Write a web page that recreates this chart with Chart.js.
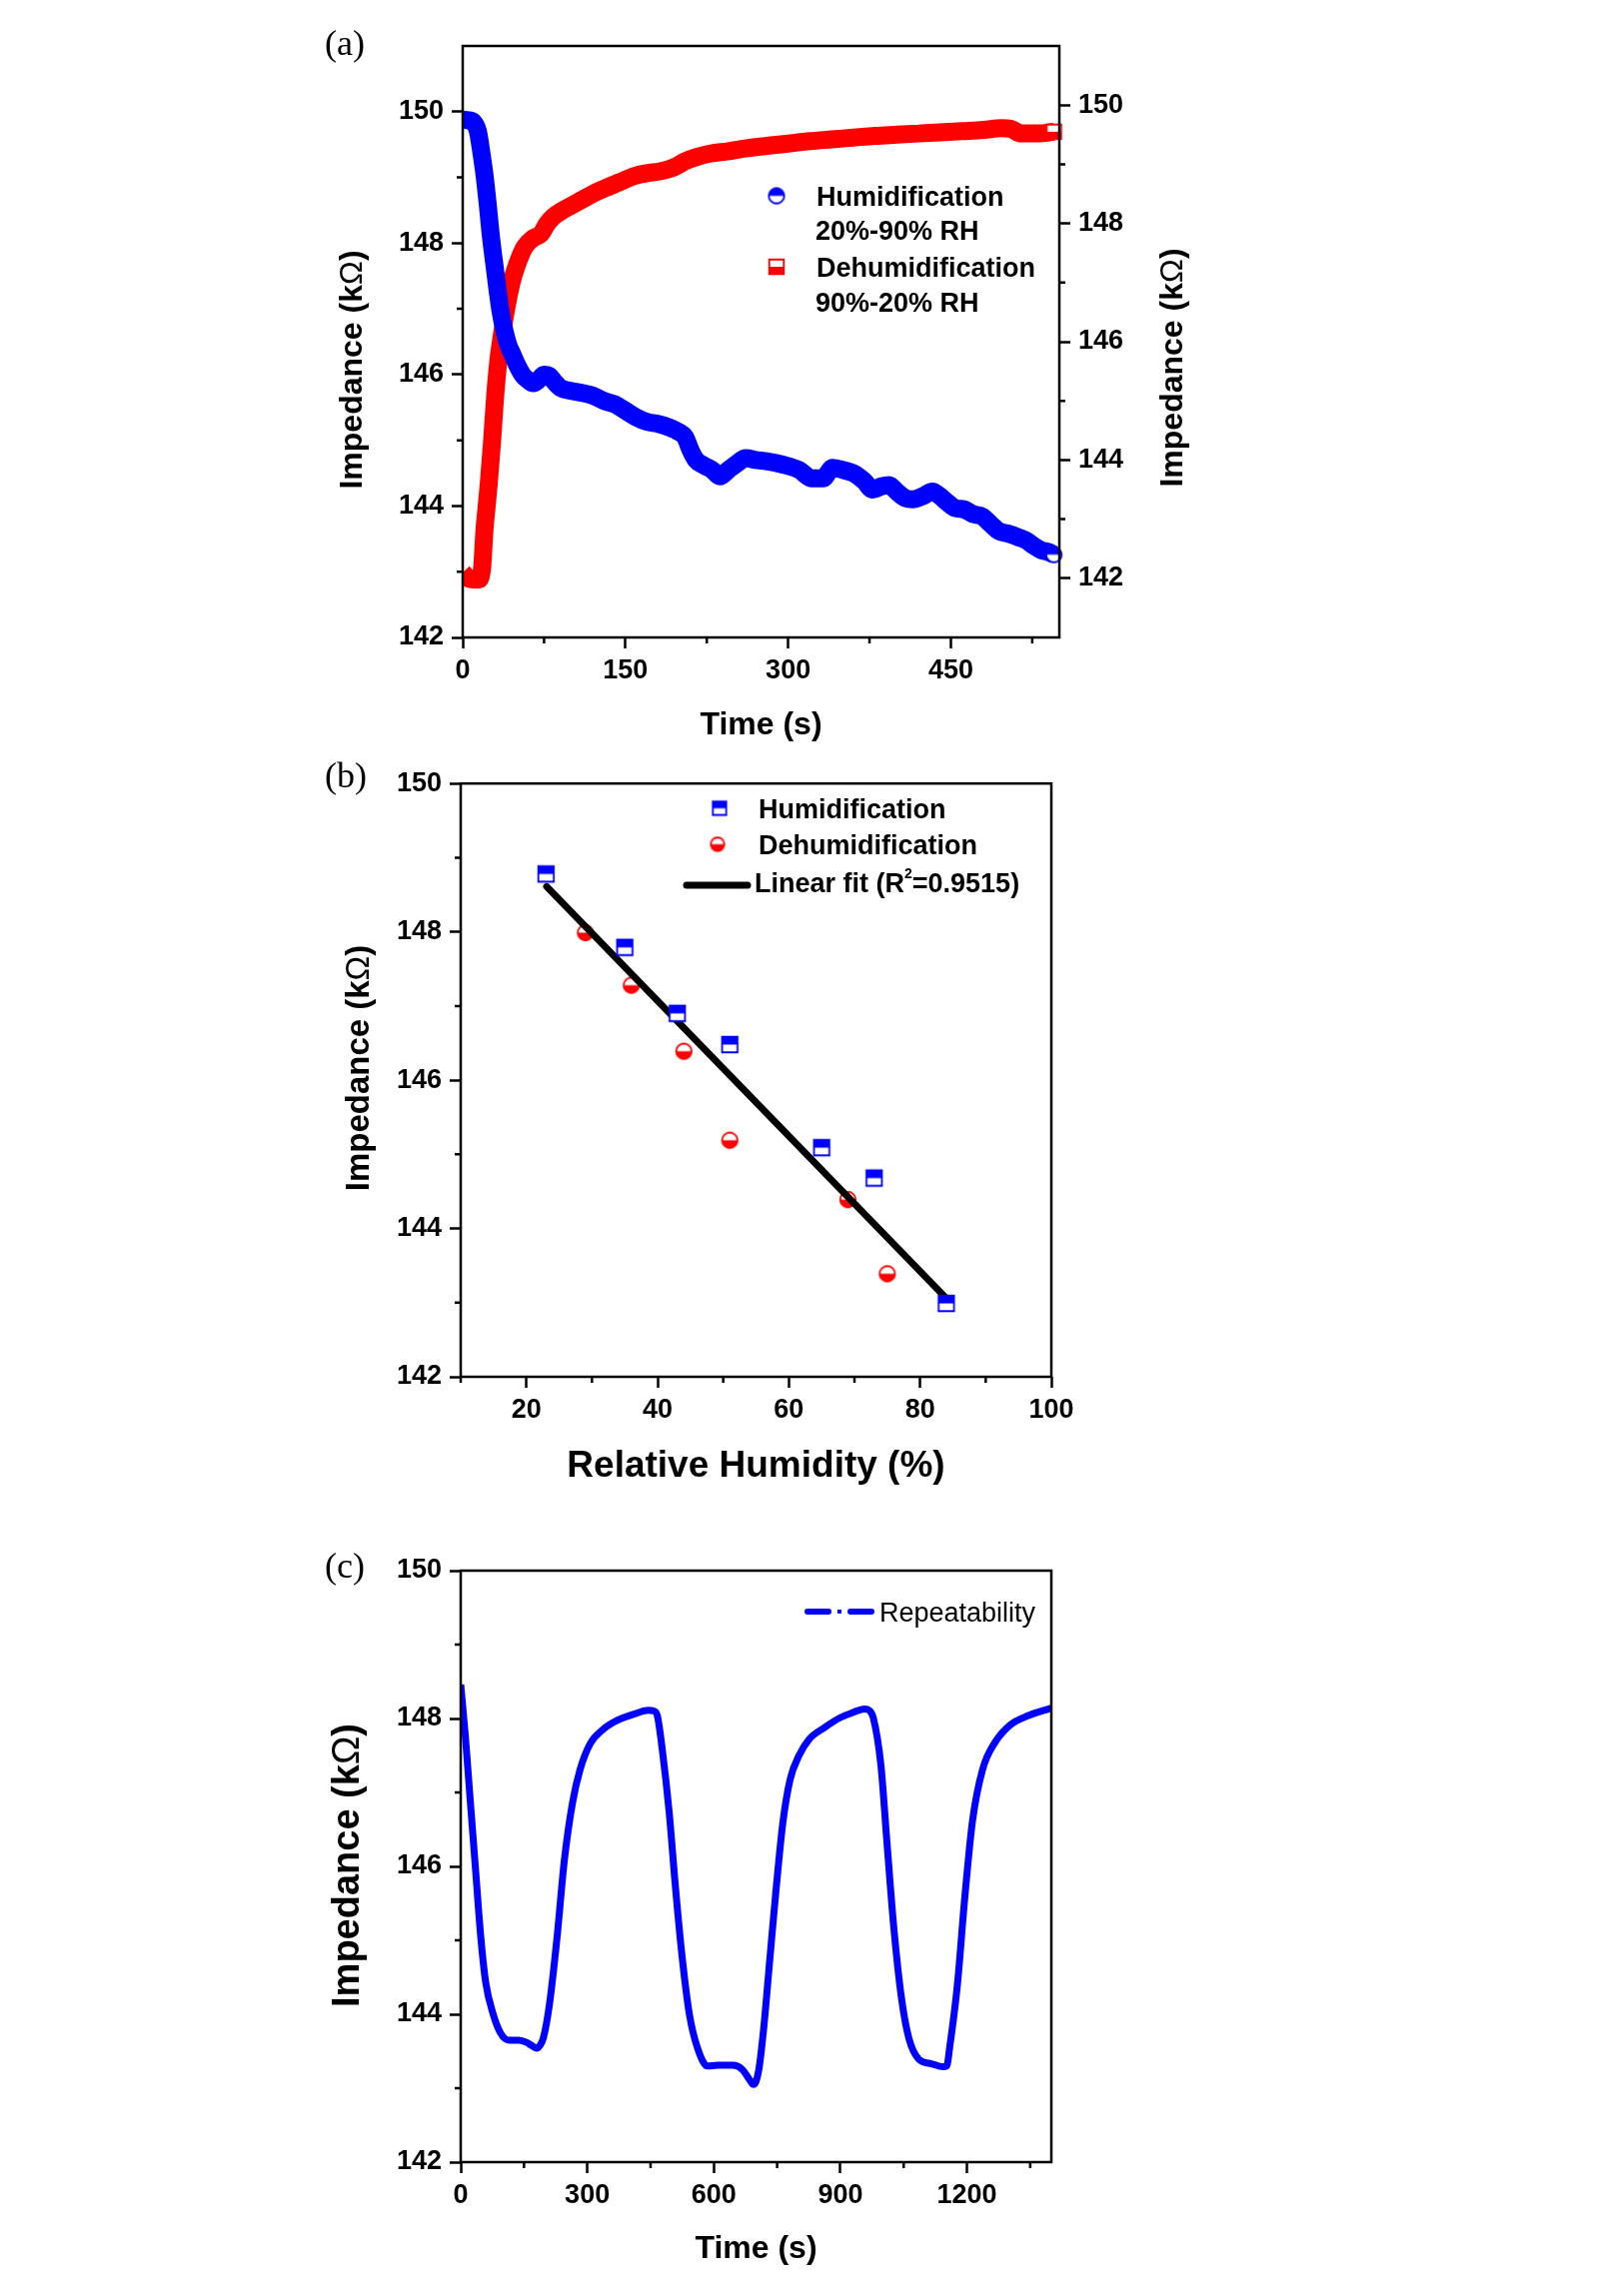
<!DOCTYPE html>
<html>
<head>
<meta charset="utf-8">
<title>Impedance response</title>
<script src="https://cdn.jsdelivr.net/npm/chart.js@4.4.1/dist/chart.umd.min.js"></script>
<style>
  html, body { margin: 0; padding: 0; background: #fff; }
  body { width: 1605px; height: 2298px; position: relative; overflow: hidden; }
  canvas { position: absolute; left: 0; }
</style>
</head>
<body>
<canvas id="chartA" width="1605" height="760" style="top:0"></canvas>
<canvas id="chartB" width="1605" height="760" style="top:760px"></canvas>
<canvas id="chartC" width="1605" height="778" style="top:1520px"></canvas>
<script>
// (a) response / recovery
var humTime = [0, 5, 10, 14, 17, 20, 23, 26, 29, 32, 35, 38, 42, 46, 50, 55, 60, 65, 70, 75,
  80, 85, 90, 100, 110, 120, 130, 140, 150, 160, 170, 180, 190, 200, 205, 210, 215, 222, 230, 237,
  245, 253, 261, 270, 280, 295, 310, 322, 332, 341, 350, 360, 370, 378, 386, 393, 400, 408, 415, 424,
  433, 440, 447, 454, 462, 470, 479, 487, 494, 503, 513, 520, 525, 533, 540, 545];
var humImp = [149.88, 149.87, 149.84, 149.7, 149.4, 149.05, 148.6, 148.1, 147.7, 147.3,
  146.95, 146.7, 146.45, 146.3, 146.15, 146.0, 145.92, 145.87, 145.92, 146.0,
  145.98, 145.88, 145.8, 145.75, 145.72, 145.68, 145.6, 145.55, 145.45, 145.35,
  145.28, 145.25, 145.2, 145.12, 145.05, 144.85, 144.7, 144.62, 144.55, 144.45,
  144.55, 144.65, 144.73, 144.7, 144.68, 144.63, 144.55, 144.42, 144.42, 144.58,
  144.55, 144.5, 144.38, 144.25, 144.3, 144.32, 144.22, 144.12, 144.1, 144.15,
  144.22, 144.15, 144.05, 143.97, 143.95, 143.88, 143.84, 143.72, 143.62, 143.58,
  143.52, 143.47, 143.41, 143.33, 143.3, 143.26];
var dehumTime = [0, 5, 10, 15, 18, 20, 22, 24, 27, 30, 33, 36, 40, 45, 50, 57, 65, 72, 78, 84,
  92, 100, 110, 120, 132, 145, 158, 170, 182, 195, 205, 215, 228, 245, 262, 280, 300, 320, 340, 360,
  380, 400, 420, 440, 460, 480, 497, 505, 515, 530, 545];
var dehumImp = [142.1, 142.0, 141.98, 141.98, 142.2, 142.8, 143.2, 143.6, 144.3, 145.1,
  145.7, 146.1, 146.55, 147.0, 147.3, 147.6, 147.75, 147.82, 148.0, 148.12,
  148.22, 148.3, 148.4, 148.5, 148.6, 148.7, 148.8, 148.85, 148.88, 148.95,
  149.05, 149.12, 149.18, 149.22, 149.27, 149.31, 149.35, 149.39, 149.42, 149.45,
  149.48, 149.5, 149.52, 149.54, 149.56, 149.58, 149.61, 149.6, 149.52, 149.52, 149.55];

// (b) impedance vs RH
var humRH = [23, 35, 43, 51, 65, 73, 84];
var humB = [148.78, 147.79, 146.9, 146.48, 145.09, 144.68, 142.99];
var dehumRH = [29, 36, 44, 51, 69, 75];
var dehumB = [147.99, 147.28, 146.39, 145.19, 144.39, 143.39];
var fitRH = [23.1, 84.1];
var fitB = [148.61, 143.05];

// (c) repeatability
var cycTime = [0, 11, 23, 35, 47, 59, 77, 95, 114, 138, 156, 170, 180, 188, 196, 210, 228, 246, 265, 283,
  307, 337, 373, 416, 445, 458, 466, 478, 494, 509, 524, 542, 561, 585, 609, 645, 668, 684, 694, 706,
  718, 732, 748, 764, 781, 802, 826, 863, 899, 929, 957, 970, 978, 996, 1010, 1026, 1044, 1062, 1086, 1116,
  1143, 1152, 1159, 1177, 1195, 1213, 1237, 1268, 1304, 1346, 1400];
var cycImp = [148.46, 147.76, 146.86, 145.97, 145.08, 144.44, 144.0, 143.74, 143.65, 143.65,
  143.62, 143.57, 143.54, 143.58, 143.68, 144.12, 145.02, 146.1, 146.86, 147.31,
  147.66, 147.85, 147.98, 148.07, 148.11, 148.1, 148.04, 147.57, 146.74, 145.72,
  144.82, 144.0, 143.55, 143.3, 143.31, 143.31, 143.25, 143.12, 143.05, 143.23,
  143.8, 144.7, 145.72, 146.61, 147.18, 147.5, 147.72, 147.88, 148.01, 148.08,
  148.13, 148.1, 148.01, 147.37, 146.35, 145.21, 144.25, 143.68, 143.39, 143.33,
  143.29, 143.3, 143.55, 144.38, 145.59, 146.61, 147.31, 147.69, 147.92, 148.04, 148.14];

// tick labels
var impTicks = [142, 144, 146, 148, 150];
var impMinor = [143, 145, 147, 149];
var timeTicksA = [0, 150, 300, 450];
var timeMinorA = [75, 225, 375, 525];
var rhTicks = [20, 40, 60, 80, 100];
var rhMinor = [10, 30, 50, 70, 90];
var timeTicksC = [0, 300, 600, 900, 1200];
var timeMinorC = [150, 450, 750, 1050, 1350];

var BLUE = '#0000ff', RED = '#ff0000';
var SANS = '"Liberation Sans", Arial, sans-serif';
var SERIF = '"Liberation Serif", "Times New Roman", serif';

Chart.defaults.font.family = SANS;
Chart.defaults.color = '#000';

function pts(xs, ys) {
    return xs.map(function (x, i) { return {x: x, y: ys[i]}; });
}

// half filled marker (Origin style)
function halfMarker(shape, size, color, topFilled) {
    var c = document.createElement('canvas');
    c.width = c.height = size + 4;
    var g = c.getContext('2d'), m = c.width / 2, r = size / 2;
    function path() {
        g.beginPath();
        if (shape === 'circle') g.arc(m, m, r - 0.75, 0, Math.PI * 2);
        else g.rect(m - r + 0.75, m - r + 0.75, size - 1.5, size - 1.5);
    }
    g.fillStyle = '#fff';
    path(); g.fill();
    g.save(); path(); g.clip();
    g.fillStyle = color;
    if (topFilled) g.fillRect(0, 0, c.width, m);
    else g.fillRect(0, m, c.width, c.height - m);
    g.restore();
    g.lineWidth = 1.8; g.strokeStyle = color;
    path(); g.stroke();
    return c;
}

function axis(pos, min, max, ticks, size) {
    return {
        type: 'linear', position: pos, min: min, max: max,
        afterBuildTicks: function (s) { s.ticks = ticks.map(function (v) { return {value: v}; }); },
        afterFit: function (s) { if (s.isHorizontal()) s.height = size; else s.width = size; },
        border: {display: false},
        grid: {drawOnChartArea: false, tickLength: 11, tickWidth: 2.5, tickColor: '#000'},
        ticks: {
            font: {size: 27, weight: 'bold'}, color: '#000',
            padding: pos === 'bottom' ? 6 : 8, autoSkip: false, maxRotation: 0,
            callback: function (v) { return String(v); }
        }
    };
}

function text(ctx, str, x, y, font, align) {
    ctx.save();
    ctx.font = font; ctx.fillStyle = '#000';
    ctx.textAlign = align || 'left'; ctx.textBaseline = 'alphabetic';
    ctx.fillText(str, x, y);
    ctx.restore();
}

function impTitle(ctx, cx, cy, size) {
    var parts = [['Impedance (k', 'bold '], ['\u03A9', ''], [')', 'bold ']];
    ctx.save();
    ctx.translate(cx, cy); ctx.rotate(-Math.PI / 2);
    ctx.fillStyle = '#000'; ctx.textBaseline = 'middle'; ctx.textAlign = 'left';
    var w = 0;
    parts.forEach(function (p) { ctx.font = p[1] + size + 'px ' + SANS; w += ctx.measureText(p[0]).width; });
    var x = -w / 2;
    parts.forEach(function (p) {
        ctx.font = p[1] + size + 'px ' + SANS;
        ctx.fillText(p[0], x, 0);
        x += ctx.measureText(p[0]).width;
    });
    ctx.restore();
}

function drawImg(ctx, img, x, y) {
    ctx.drawImage(img, x - img.width / 2, y - img.height / 2);
}

// box around the plot, minor ticks, texts
function framePlugin(minors, extras) {
    return {
        id: 'frame',
        afterDraw: function (chart) {
            var ctx = chart.ctx, a = chart.chartArea;
            ctx.save();
            ctx.strokeStyle = '#000'; ctx.lineWidth = 2.5;
            ctx.strokeRect(a.left, a.top, a.right - a.left, a.bottom - a.top);
            ctx.beginPath();
            Object.keys(minors).forEach(function (id) {
                var s = chart.scales[id];
                minors[id].forEach(function (v) {
                    var p = s.getPixelForValue(v);
                    if (s.isHorizontal()) { ctx.moveTo(p, a.bottom); ctx.lineTo(p, a.bottom + 6); }
                    else if (s.position === 'left') { ctx.moveTo(a.left, p); ctx.lineTo(a.left - 6, p); }
                    else { ctx.moveTo(a.right, p); ctx.lineTo(a.right + 6, p); }
                });
            });
            ctx.stroke();
            ctx.restore();
            extras(ctx, a);
        }
    };
}

var circA = halfMarker('circle', 17, BLUE, true);
var squareA = halfMarker('rect', 16, RED, false);
var squareB = halfMarker('rect', 17, BLUE, true);
var circB = halfMarker('circle', 17, RED, false);
var squareLegB = halfMarker('rect', 15, BLUE, true);
var circLegB = halfMarker('circle', 15, RED, false);

// (a)
var chartA = new Chart(document.getElementById('chartA'), {
    type: 'line',
    data: {
        datasets: [{
            label: 'Humidification 20%-90% RH',
            data: pts(humTime, humImp),
            yAxisID: 'y',
            borderColor: BLUE,
            backgroundColor: BLUE,
            borderWidth: 18,
            borderJoinStyle: 'round',
            cubicInterpolationMode: 'monotone',
            pointStyle: circA,
            pointRadius: function (c) { return c.dataIndex === humTime.length - 1 ? 8 : 0; },
            clip: {left: 0, top: 9, right: 9, bottom: 9}
        }, {
            label: 'Dehumidification 90%-20% RH',
            data: pts(dehumTime, dehumImp),
            yAxisID: 'y1',
            borderColor: RED,
            backgroundColor: RED,
            borderWidth: 18,
            borderJoinStyle: 'round',
            cubicInterpolationMode: 'monotone',
            pointStyle: squareA,
            pointRadius: function (c) { return c.dataIndex === dehumTime.length - 1 ? 8 : 0; },
            clip: {left: 0, top: 9, right: 9, bottom: 9}
        }]
    },
    options: {
        responsive: false, devicePixelRatio: 1, animation: false,
        layout: {padding: {top: 46, left: 0, right: 0, bottom: 0}},
        plugins: {legend: {display: false}, tooltip: {enabled: false}},
        scales: {
            x: axis('bottom', 0, 550, timeTicksA, 122),
            y: axis('left', 142, 151, impTicks, 463),
            y1: axis('right', 141, 151, impTicks, 545)
        }
    },
    plugins: [framePlugin({x: timeMinorA, y: impMinor, y1: impMinor}, function (ctx, a) {
        text(ctx, '(a)', 325, 55, '36px ' + SERIF);
        impTitle(ctx, a.left - 110, 370, 32);
        impTitle(ctx, a.right + 114, 368, 32);
        text(ctx, 'Time (s)', (a.left + a.right) / 2, 735, 'bold 32px ' + SANS, 'center');
        drawImg(ctx, circA, 777, 196);
        drawImg(ctx, squareA, 777, 267);
        var f = 'bold 27px ' + SANS;
        text(ctx, 'Humidification', 817, 206, f);
        text(ctx, '20%-90% RH', 816, 240, f);
        text(ctx, 'Dehumidification', 817, 277, f);
        text(ctx, '90%-20% RH', 816, 312, f);
    })]
});

// (b)
var chartB = new Chart(document.getElementById('chartB'), {
    type: 'scatter',
    data: {
        datasets: [{
            label: 'Humidification',
            data: pts(humRH, humB),
            pointStyle: squareB,
            pointRadius: 8
        }, {
            label: 'Linear fit (R2=0.9515)',
            data: pts(fitRH, fitB),
            showLine: true,
            borderColor: '#000',
            borderWidth: 7,
            borderCapStyle: 'round',
            pointRadius: 0
        }, {
            label: 'Dehumidification',
            data: pts(dehumRH, dehumB),
            pointStyle: circB,
            pointRadius: 8
        }]
    },
    options: {
        responsive: false, devicePixelRatio: 1, animation: false,
        layout: {padding: {top: 24, left: 0, right: 553, bottom: 0}},
        plugins: {legend: {display: false}, tooltip: {enabled: false}},
        scales: {
            x: axis('bottom', 10, 100, rhTicks, 142),
            y: axis('left', 142, 150, impTicks, 461)
        }
    },
    plugins: [framePlugin({x: rhMinor, y: impMinor}, function (ctx, a) {
        text(ctx, '(b)', 325, 28, '36px ' + SERIF);
        impTitle(ctx, a.left - 101, 309, 33);
        text(ctx, 'Relative Humidity (%)', (a.left + a.right) / 2, 718, 'bold 37px ' + SANS, 'center');
        var f = 'bold 27px ' + SANS;
        drawImg(ctx, squareLegB, 720, 49);
        text(ctx, 'Humidification', 759, 59, f);
        drawImg(ctx, circLegB, 718, 85);
        text(ctx, 'Dehumidification', 759, 95, f);
        ctx.save();
        ctx.strokeStyle = '#000'; ctx.lineWidth = 7; ctx.lineCap = 'round';
        ctx.beginPath(); ctx.moveTo(687, 126); ctx.lineTo(748, 126); ctx.stroke();
        ctx.restore();
        ctx.save();
        ctx.font = f; ctx.fillStyle = '#000';
        var x = 755;
        ctx.fillText('Linear fit (R', x, 133); x += ctx.measureText('Linear fit (R').width;
        ctx.font = 'bold 14px ' + SANS;
        ctx.fillText('2', x, 119); x += ctx.measureText('2').width;
        ctx.font = f;
        ctx.fillText('=0.9515)', x, 133);
        ctx.restore();
    })]
});

// (c)
var chartC = new Chart(document.getElementById('chartC'), {
    type: 'line',
    data: {
        datasets: [{
            label: 'Repeatability',
            data: pts(cycTime, cycImp),
            borderColor: BLUE,
            borderWidth: 7,
            borderJoinStyle: 'round',
            cubicInterpolationMode: 'monotone',
            pointRadius: 0
        }]
    },
    options: {
        responsive: false, devicePixelRatio: 1, animation: false,
        layout: {padding: {top: 52, left: 0, right: 553, bottom: 0}},
        plugins: {legend: {display: false}, tooltip: {enabled: false}},
        scales: {
            x: axis('bottom', 0, 1400, timeTicksC, 134),
            y: axis('left', 142, 150, impTicks, 461)
        }
    },
    plugins: [framePlugin({x: timeMinorC, y: impMinor}, function (ctx, a) {
        text(ctx, '(c)', 325, 59, '36px ' + SERIF);
        impTitle(ctx, a.left - 112, 347, 38);
        text(ctx, 'Time (s)', (a.left + a.right) / 2, 740, 'bold 32px ' + SANS, 'center');
        ctx.save();
        ctx.strokeStyle = BLUE; ctx.fillStyle = BLUE; ctx.lineWidth = 6; ctx.lineCap = 'round';
        ctx.beginPath();
        ctx.moveTo(808, 93); ctx.lineTo(829, 93);
        ctx.moveTo(851, 93); ctx.lineTo(872, 93);
        ctx.stroke();
        ctx.fillRect(838, 91, 4, 4);
        ctx.restore();
        text(ctx, 'Repeatability', 880, 103, '27px ' + SANS);
    })]
});
</script>
</body>
</html>
